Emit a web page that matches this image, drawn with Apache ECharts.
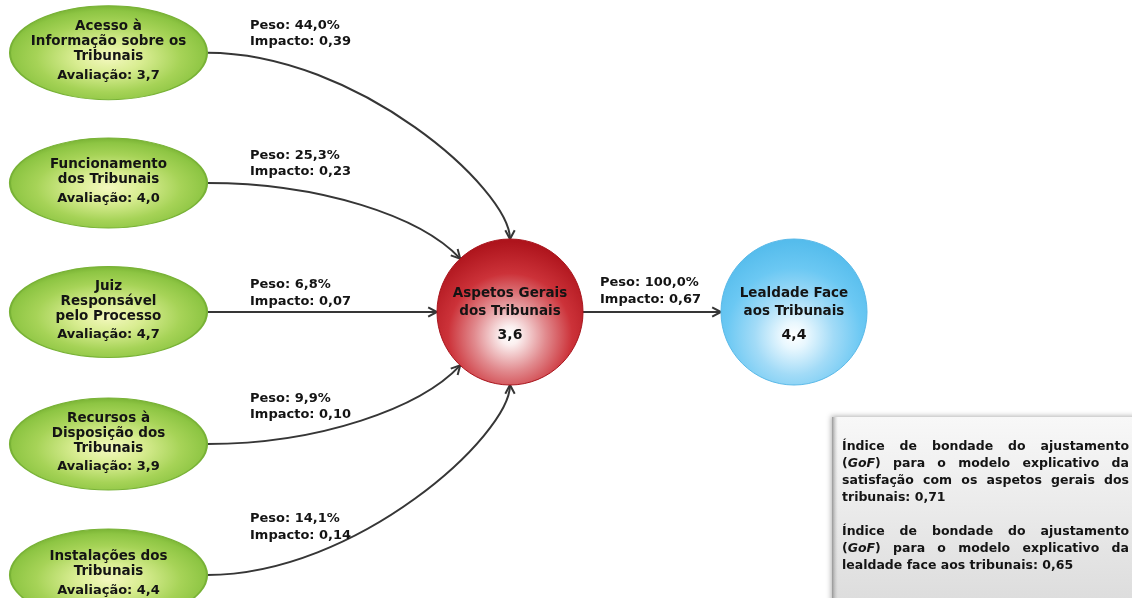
<!DOCTYPE html>
<html>
<head>
<meta charset="utf-8">
<script src="https://cdn.jsdelivr.net/npm/echarts@6/dist/echarts.min.js"></script>
<style>
  html, body { margin: 0; padding: 0; background: #ffffff; }
  #chart { width: 1132px; height: 598px; }
</style>
</head>
<body>
<div id="chart"></div>
<script>
// ---- Model values -------------------------------------------------------
const driverNames = [
  'Acesso à\nInformação sobre os\nTribunais',
  'Funcionamento\ndos Tribunais',
  'Juiz\nResponsável\npelo Processo',
  'Recursos à\nDisposição dos\nTribunais',
  'Instalações dos\nTribunais'
];
const driverRatings = [3.7, 4.0, 4.7, 3.9, 4.4];
const driverWeights = [44.0, 25.3, 6.8, 9.9, 14.1];
const driverImpacts = [0.39, 0.23, 0.07, 0.10, 0.14];

const centralName = 'Aspetos Gerais\ndos Tribunais';
const centralRating = 3.6;
const outcomeName = 'Lealdade Face\naos Tribunais';
const outcomeRating = 4.4;
const outcomeWeight = 100.0;
const outcomeImpact = 0.67;

const gofValues = [0.71, 0.65];
const gofParagraphs = [
  ['Índice de bondade do ajustamento', '(GoF) para o modelo explicativo da',
   'satisfação com os aspetos gerais dos', 'tribunais: ' + fmt2(gofValues[0])],
  ['Índice de bondade do ajustamento', '(GoF) para o modelo explicativo da',
   'lealdade face aos tribunais: ' + fmt2(gofValues[1])]
];

function fmt1(v) { return v.toFixed(1).replace('.', ','); }
function fmt2(v) { return v.toFixed(2).replace('.', ','); }

// ---- Layout (axis units, one unit per canvas pixel) ---------------------
const W = 1132, H = 598;
const DRIVER_X = 108.5, DRIVER_RX = 98.5;
const driverY = [52.7, 183, 312, 444, 575];
const driverRY = [47, 45, 45.5, 46, 46];
const HUB = [510, 312], GOAL = [794, 312], NODE_R = 73;
const arrivalAngle = [-90, -133, 180, 133, 90];   // where each arrow meets the hub
const leadLen = [150, 113, 0, 113, 150];          // outgoing handle length
const tailLen = [50, 58, 0, 58, 50];              // incoming handle length
const labelPos = [[250, 33.5], [250, 163.5], [250, 293], [250, 406.5], [250, 527], [600, 291]];

const FONT = '"DejaVu Sans", Verdana, sans-serif';
const INK = '#141414';
const EDGE = '#363636';

// ---- Nodes ---------------------------------------------------------------
const nodes = driverNames.map((name, i) => ({
  kind: 'driver', pos: [DRIVER_X, driverY[i]], rx: DRIVER_RX, ry: driverRY[i],
  title: name, score: 'Avaliação: ' + fmt1(driverRatings[i])
})).concat([
  { kind: 'hub', pos: HUB, rx: NODE_R, ry: NODE_R, title: centralName, score: fmt1(centralRating) },
  { kind: 'goal', pos: GOAL, rx: NODE_R, ry: NODE_R, title: outcomeName, score: fmt1(outcomeRating) }
]);

const fills = {
  driver: { type: 'radial', x: 0.5, y: 0.55, r: 0.56, colorStops: [
    { offset: 0, color: '#f4f8bf' }, { offset: 0.3, color: '#d9ed92' },
    { offset: 0.65, color: '#a6d357' }, { offset: 0.88, color: '#8dc543' }, { offset: 1, color: '#76af32' } ] },
  hub: { type: 'radial', x: 0.5, y: 0.66, r: 0.64, colorStops: [
    { offset: 0, color: '#ffffff' }, { offset: 0.1, color: '#fbefef' },
    { offset: 0.38, color: '#e18a8e' }, { offset: 0.66, color: '#cc3239' }, { offset: 1, color: '#ae141c' } ] },
  goal: { type: 'radial', x: 0.5, y: 0.66, r: 0.64, colorStops: [
    { offset: 0, color: '#ffffff' }, { offset: 0.14, color: '#e8f7fe' },
    { offset: 0.42, color: '#a2dbf7' }, { offset: 0.72, color: '#6bc8f3' }, { offset: 1, color: '#55bcec' } ] }
};
const strokes = { driver: '#78b236', hub: '#a8141c', goal: '#5ab9e8' };

function renderNode(params, api) {
  const n = nodes[params.dataIndex];
  const c = api.coord(n.pos);
  const s = api.size([n.rx, n.ry]);
  const rx = Math.abs(s[0]), ry = Math.abs(s[1]);
  const lines = n.title.split('\n').length;
  const children = [{
    type: 'circle', x: c[0], y: c[1], scaleX: rx / ry, scaleY: 1,
    shape: { cx: 0, cy: 0, r: ry },
    style: { fill: fills[n.kind], stroke: strokes[n.kind], lineWidth: 1 }
  }];
  if (n.kind === 'driver') {
    const lh = 15, gap = 19;
    const span = (lines - 1) * lh + gap;
    const first = c[1] - 1.5 - span / 2;
    children.push({ type: 'text', x: c[0], y: first + (lines - 1) * lh / 2,
      style: { text: n.title, font: 'bold 13.5px ' + FONT, fill: INK, align: 'center', verticalAlign: 'middle', lineHeight: lh } });
    children.push({ type: 'text', x: c[0], y: first + (lines - 1) * lh + gap,
      style: { text: n.score, font: 'bold 13px ' + FONT, fill: INK, align: 'center', verticalAlign: 'middle' } });
  } else {
    children.push({ type: 'text', x: c[0], y: c[1] - 9.5,
      style: { text: n.title, font: 'bold 13.5px ' + FONT, fill: INK, align: 'center', verticalAlign: 'middle', lineHeight: 18.5 } });
    children.push({ type: 'text', x: c[0], y: c[1] + 23.5,
      style: { text: n.score, font: 'bold 14px ' + FONT, fill: INK, align: 'center', verticalAlign: 'middle' } });
  }
  return { type: 'group', children: children };
}

// ---- Edges ---------------------------------------------------------------
const rad = d => d * Math.PI / 180;
const edges = driverNames.map((_, i) => {
  const a = rad(arrivalAngle[i]);
  const start = [DRIVER_X + DRIVER_RX, driverY[i]];
  const end = [HUB[0] + NODE_R * Math.cos(a), HUB[1] + NODE_R * Math.sin(a)];
  const e = { start: start, end: end, label: 'Peso: ' + fmt1(driverWeights[i]) + '%\nImpacto: ' + fmt2(driverImpacts[i]), labelAt: labelPos[i] };
  if (leadLen[i] > 0) {
    e.c1 = [start[0] + leadLen[i], start[1]];
    e.c2 = [end[0] + tailLen[i] * Math.cos(a), end[1] + tailLen[i] * Math.sin(a)];
  }
  return e;
}).concat([{
  start: [HUB[0] + NODE_R, HUB[1]], end: [GOAL[0] - NODE_R, GOAL[1]],
  label: 'Peso: ' + fmt1(outcomeWeight) + '%\nImpacto: ' + fmt2(outcomeImpact), labelAt: labelPos[5]
}]);

function renderEdge(params, api) {
  const e = edges[params.dataIndex];
  const p0 = api.coord(e.start), p3 = api.coord(e.end);
  const line = { stroke: EDGE, lineWidth: 2, fill: null };
  const children = [];
  let d;
  if (e.c1) {
    const c1 = api.coord(e.c1), c2 = api.coord(e.c2);
    children.push({ type: 'bezierCurve', shape: { x1: p0[0], y1: p0[1], x2: p3[0], y2: p3[1],
      cpx1: c1[0], cpy1: c1[1], cpx2: c2[0], cpy2: c2[1] }, style: line });
    d = [p3[0] - c2[0], p3[1] - c2[1]];
  } else {
    children.push({ type: 'line', shape: { x1: p0[0], y1: p0[1], x2: p3[0], y2: p3[1] }, style: line });
    d = [p3[0] - p0[0], p3[1] - p0[1]];
  }
  const len = Math.hypot(d[0], d[1]);
  const ux = d[0] / len, uy = d[1] / len;
  const L = 10, t = rad(28);
  const arm = s => [p3[0] - L * (ux * Math.cos(t) - s * uy * Math.sin(t)),
                    p3[1] - L * (uy * Math.cos(t) + s * ux * Math.sin(t))];
  children.push({ type: 'polyline', shape: { points: [arm(1), p3, arm(-1)] },
    style: { stroke: EDGE, lineWidth: 2, fill: null, lineJoin: 'miter' } });
  const lp = api.coord(e.labelAt);
  children.push({ type: 'text', x: lp[0], y: lp[1],
    style: { text: e.label, font: 'bold 13px ' + FONT, fill: INK, align: 'left', verticalAlign: 'middle', lineHeight: 16.5 } });
  return { type: 'group', children: children };
}

// ---- Goodness-of-fit note (justified text) -------------------------------
const BOX = { x: 832, y: 417, w: 310, h: 190 };
const TEXT_L = 842, TEXT_R = 1129, LINE_H = 17, FIRST_LINE = 447;
const boxFont = 'bold 12.5px ' + FONT;
const boxItalic = 'italic bold 12.5px ' + FONT;
const ctx = document.createElement('canvas').getContext('2d');
function measure(text, font) { ctx.font = font; return ctx.measureText(text).width; }
function wordParts(word) {
  const k = word.indexOf('GoF');
  if (k < 0) return [{ t: word, f: boxFont }];
  const parts = [];
  if (k > 0) parts.push({ t: word.slice(0, k), f: boxFont });
  parts.push({ t: 'GoF', f: boxItalic });
  if (k + 3 < word.length) parts.push({ t: word.slice(k + 3), f: boxFont });
  return parts;
}
function gofElements() {
  const els = [];
  let y = FIRST_LINE;
  gofParagraphs.forEach(para => {
    para.forEach((lineText, li) => {
      const words = lineText.split(' ').map(w => {
        const parts = wordParts(w);
        parts.forEach(p => { p.w = measure(p.t, p.f); });
        return { parts: parts, w: parts.reduce((s, p) => s + p.w, 0) };
      });
      const justify = li < para.length - 1 && words.length > 1;
      const total = words.reduce((s, w) => s + w.w, 0);
      const gap = justify ? (TEXT_R - TEXT_L - total) / (words.length - 1) : measure(' ', boxFont);
      let x = TEXT_L;
      words.forEach(w => {
        let px = x;
        w.parts.forEach(p => {
          els.push({ type: 'text', x: px, y: y, z: 10,
            style: { text: p.t, font: p.f, fill: INK, align: 'left', verticalAlign: 'middle' } });
          px += p.w;
        });
        x += w.w + gap;
      });
      y += LINE_H;
    });
    y += LINE_H;
  });
  return els;
}

const graphicEls = [
  { type: 'rect', z: 1, shape: { x: BOX.x, y: BOX.y, width: BOX.w, height: BOX.h },
    style: { fill: { type: 'linear', x: 0, y: 0, x2: 0, y2: 1, colorStops: [
      { offset: 0, color: '#f8f8f8' }, { offset: 1, color: '#dcdcdc' } ] },
      shadowBlur: 5, shadowColor: 'rgba(0,0,0,0.3)', shadowOffsetX: -1, shadowOffsetY: -1 } },
  { type: 'rect', z: 2, shape: { x: BOX.x, y: BOX.y, width: 6, height: BOX.h },
    style: { fill: { type: 'linear', x: 0, y: 0, x2: 1, y2: 0, colorStops: [
      { offset: 0, color: 'rgba(140,140,140,0.9)' }, { offset: 1, color: 'rgba(200,200,200,0)' } ] } } }
].concat(gofElements());

// ---- Chart ---------------------------------------------------------------
const chart = echarts.init(document.getElementById('chart'), null, { renderer: 'canvas' });
chart.setOption({
  animation: false,
  backgroundColor: '#ffffff',
  grid: { left: 0, right: 0, top: 0, bottom: 0 },
  xAxis: { type: 'value', min: 0, max: W, show: false },
  yAxis: { type: 'value', min: 0, max: H, inverse: true, show: false },
  graphic: graphicEls,
  series: [
    { type: 'custom', name: 'ligações', clip: false, z: 2,
      data: edges.map(e => e.start), renderItem: renderEdge },
    { type: 'custom', name: 'construtos', clip: false, z: 3,
      data: nodes.map(n => n.pos), renderItem: renderNode }
  ]
});
</script>
</body>
</html>
